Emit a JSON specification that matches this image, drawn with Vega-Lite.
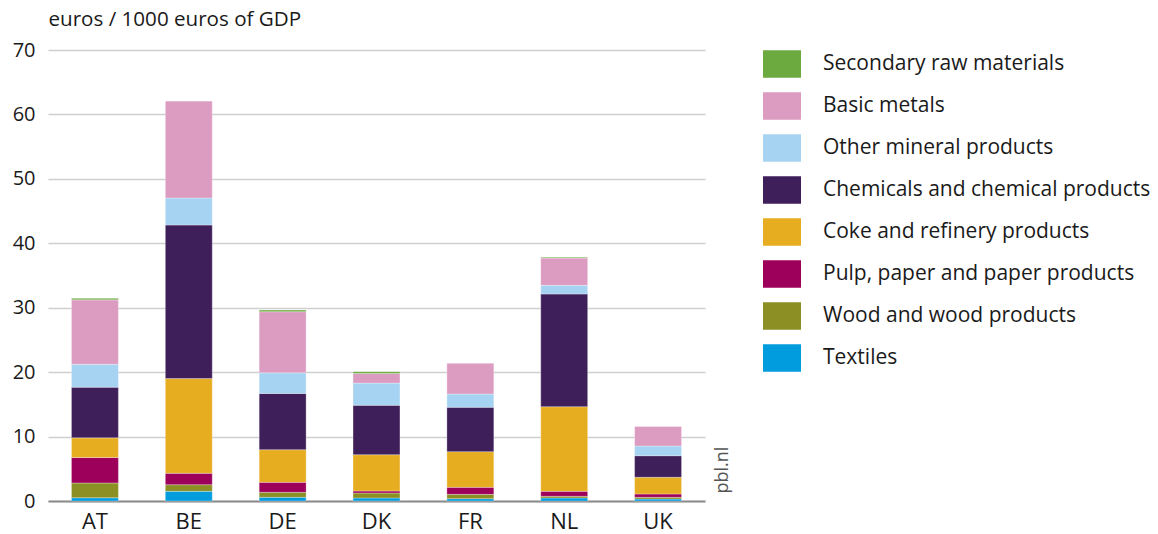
{
  "$schema": "https://vega.github.io/schema/vega-lite/v6.json",
  "autosize": {"type": "none"},
  "padding": {"left": 48, "top": 50, "right": 453, "bottom": 33},
  "width": 657,
  "height": 451,
  "background": "white",
  "config": {
    "font": "Open Sans",
    "view": {"stroke": null}
  },
  "data": {
    "values": [
      {"country": "AT", "cat": "Textiles", "v": 0.5},
      {"country": "AT", "cat": "Wood and wood products", "v": 2.3},
      {"country": "AT", "cat": "Pulp, paper and paper products", "v": 3.95},
      {"country": "AT", "cat": "Coke and refinery products", "v": 3.05},
      {"country": "AT", "cat": "Chemicals and chemical products", "v": 7.87},
      {"country": "AT", "cat": "Other mineral products", "v": 3.55},
      {"country": "AT", "cat": "Basic metals", "v": 10.0},
      {"country": "AT", "cat": "Secondary raw materials", "v": 0.25},
      {"country": "BE", "cat": "Textiles", "v": 1.5},
      {"country": "BE", "cat": "Wood and wood products", "v": 1.03},
      {"country": "BE", "cat": "Pulp, paper and paper products", "v": 1.77},
      {"country": "BE", "cat": "Coke and refinery products", "v": 14.7},
      {"country": "BE", "cat": "Chemicals and chemical products", "v": 23.84},
      {"country": "BE", "cat": "Other mineral products", "v": 4.19},
      {"country": "BE", "cat": "Basic metals", "v": 15.07},
      {"country": "BE", "cat": "Secondary raw materials", "v": 0},
      {"country": "DE", "cat": "Textiles", "v": 0.57},
      {"country": "DE", "cat": "Wood and wood products", "v": 0.78},
      {"country": "DE", "cat": "Pulp, paper and paper products", "v": 1.55},
      {"country": "DE", "cat": "Coke and refinery products", "v": 5.07},
      {"country": "DE", "cat": "Chemicals and chemical products", "v": 8.73},
      {"country": "DE", "cat": "Other mineral products", "v": 3.2},
      {"country": "DE", "cat": "Basic metals", "v": 9.48},
      {"country": "DE", "cat": "Secondary raw materials", "v": 0.25},
      {"country": "DK", "cat": "Textiles", "v": 0.47},
      {"country": "DK", "cat": "Wood and wood products", "v": 0.77},
      {"country": "DK", "cat": "Pulp, paper and paper products", "v": 0.31},
      {"country": "DK", "cat": "Coke and refinery products", "v": 5.64},
      {"country": "DK", "cat": "Chemicals and chemical products", "v": 7.66},
      {"country": "DK", "cat": "Other mineral products", "v": 3.45},
      {"country": "DK", "cat": "Basic metals", "v": 1.5},
      {"country": "DK", "cat": "Secondary raw materials", "v": 0.28},
      {"country": "FR", "cat": "Textiles", "v": 0.36},
      {"country": "FR", "cat": "Wood and wood products", "v": 0.67},
      {"country": "FR", "cat": "Pulp, paper and paper products", "v": 1.09},
      {"country": "FR", "cat": "Coke and refinery products", "v": 5.54},
      {"country": "FR", "cat": "Chemicals and chemical products", "v": 6.88},
      {"country": "FR", "cat": "Other mineral products", "v": 2.06},
      {"country": "FR", "cat": "Basic metals", "v": 4.8},
      {"country": "FR", "cat": "Secondary raw materials", "v": 0},
      {"country": "NL", "cat": "Textiles", "v": 0.47},
      {"country": "NL", "cat": "Wood and wood products", "v": 0.26},
      {"country": "NL", "cat": "Pulp, paper and paper products", "v": 0.77},
      {"country": "NL", "cat": "Coke and refinery products", "v": 13.14},
      {"country": "NL", "cat": "Chemicals and chemical products", "v": 17.49},
      {"country": "NL", "cat": "Other mineral products", "v": 1.35},
      {"country": "NL", "cat": "Basic metals", "v": 4.22},
      {"country": "NL", "cat": "Secondary raw materials", "v": 0.15},
      {"country": "UK", "cat": "Textiles", "v": 0.31},
      {"country": "UK", "cat": "Wood and wood products", "v": 0.26},
      {"country": "UK", "cat": "Pulp, paper and paper products", "v": 0.52},
      {"country": "UK", "cat": "Coke and refinery products", "v": 2.59},
      {"country": "UK", "cat": "Chemicals and chemical products", "v": 3.35},
      {"country": "UK", "cat": "Other mineral products", "v": 1.51},
      {"country": "UK", "cat": "Basic metals", "v": 3.06},
      {"country": "UK", "cat": "Secondary raw materials", "v": 0}
    ]
  },
  "transform": [
    {"calculate": "indexof(['Textiles','Wood and wood products','Pulp, paper and paper products','Coke and refinery products','Chemicals and chemical products','Other mineral products','Basic metals','Secondary raw materials'], datum.cat)", "as": "stackRank"}
  ],
  "layer": [
    {
      "mark": {"type": "bar", "stroke": "white", "strokeWidth": 0.5, "strokeOpacity": 0.6},
      "encoding": {
        "x": {
          "field": "country",
          "type": "nominal",
          "sort": ["AT", "BE", "DE", "DK", "FR", "NL", "UK"],
          "scale": {"paddingInner": 0.5, "paddingOuter": 0.25},
          "axis": {
            "title": null,
            "labelAngle": 0,
            "labelFontSize": 22,
            "labelColor": "#1a1a1a",
            "labelPadding": 10,
            "ticks": false,
            "domainColor": "#8c8c8c",
            "domainWidth": 2,
            "grid": false
          }
        },
        "y": {
          "field": "v",
          "type": "quantitative",
          "aggregate": "sum",
          "stack": "zero",
          "scale": {"domain": [0, 70], "nice": false},
          "axis": {
            "title": "euros / 1000 euros of GDP",
            "titleAngle": 0,
            "titleAlign": "left",
            "titleBaseline": "alphabetic",
            "titleX": 0,
            "titleY": -25,
            "titleFontSize": 20.6,
            "titleFontWeight": "normal",
            "titleColor": "#1a1a1a",
            "values": [0, 10, 20, 30, 40, 50, 60, 70],
            "labelFontSize": 20,
            "labelColor": "#1a1a1a",
            "labelPadding": 13,
            "ticks": false,
            "domain": false,
            "grid": true,
            "gridColor": "#cfcfcf",
            "gridWidth": 1.5
          }
        },
        "color": {
          "field": "cat",
          "type": "nominal",
          "scale": {
            "domain": ["Secondary raw materials", "Basic metals", "Other mineral products", "Chemicals and chemical products", "Coke and refinery products", "Pulp, paper and paper products", "Wood and wood products", "Textiles"],
            "range": ["#6CAA3F", "#DC9CC1", "#A6D3F2", "#3E1F5A", "#E6AD20", "#9C005B", "#8C8F23", "#009CDE"]
          },
          "legend": {
            "title": null,
            "orient": "none",
            "legendX": 715,
            "legendY": -5,
            "symbolType": "M-1,-0.72L1,-0.72L1,0.72L-1,0.72Z",
            "symbolSize": 1444,
            "symbolStrokeWidth": 0,
            "symbolOpacity": 1,
            "labelFontSize": 21,
            "labelColor": "#1a1a1a",
            "labelOffset": 22,
            "labelLimit": 400,
            "rowPadding": 9
          }
        },
        "order": {"field": "stackRank", "type": "quantitative", "sort": "ascending"}
      }
    },
    {
      "mark": {"type": "bar", "opacity": 0},
      "encoding": {
        "x": {
          "field": "country",
          "type": "nominal",
          "sort": ["AT", "BE", "DE", "DK", "FR", "NL", "UK"],
          "axis": {
            "title": null,
            "labelAngle": 0,
            "labelFontSize": 22,
            "labelColor": "#1a1a1a",
            "labelPadding": 10,
            "ticks": false,
            "domainColor": "#8c8c8c",
            "domainWidth": 2,
            "grid": false
          }
        },
        "y": {
          "field": "v",
          "type": "quantitative",
          "aggregate": "sum",
          "stack": "zero",
          "axis": {
            "orient": "right",
            "title": "pbl.nl",
            "titleAngle": -90,
            "titleAlign": "left",
            "titleBaseline": "alphabetic",
            "titleX": 22,
            "titleY": 443,
            "titleFontSize": 18,
            "titleFontWeight": "normal",
            "titleColor": "#555555",
            "labels": false,
            "ticks": false,
            "domain": false,
            "grid": false
          }
        }
      }
    }
  ],
  "resolve": {"axis": {"y": "independent"}}
}
